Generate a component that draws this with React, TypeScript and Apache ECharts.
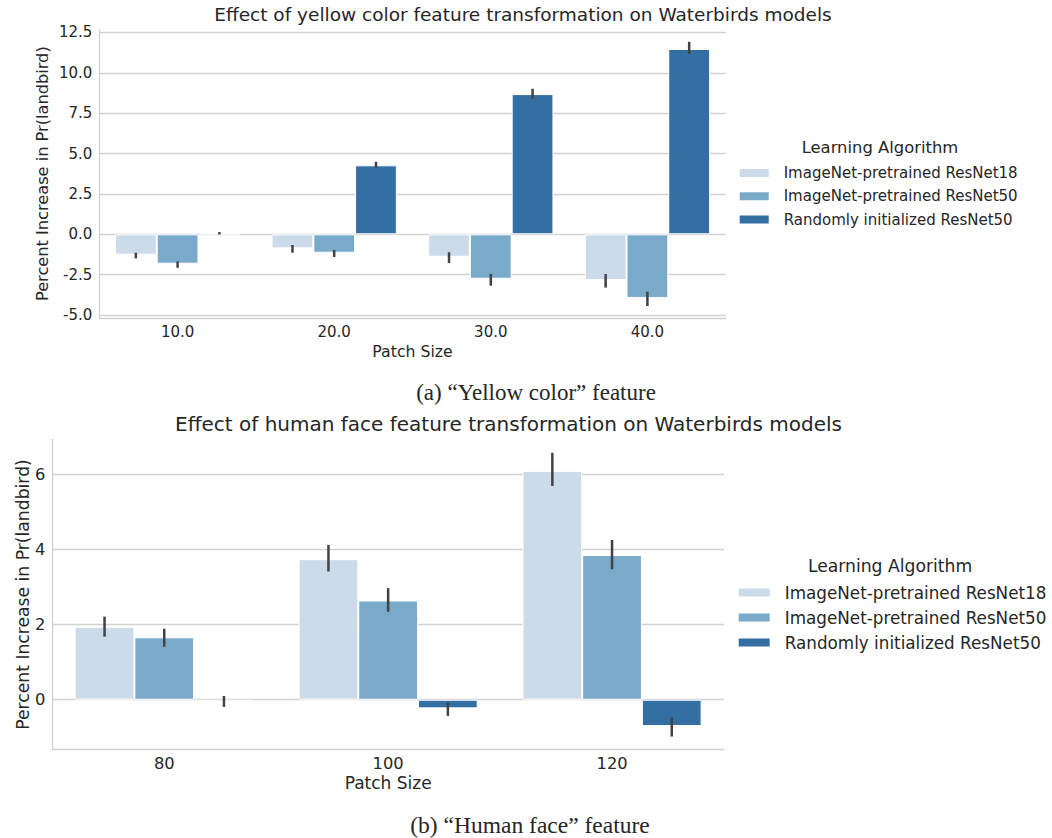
import React, { useEffect, useRef } from "react";
import * as echarts from "echarts";

// ---------- Data ----------
const seriesNames = [
  "ImageNet-pretrained ResNet18",
  "ImageNet-pretrained ResNet50",
  "Randomly initialized ResNet50",
];
const seriesColors = ["#cbdbea", "#79aac9", "#346fa3"];

// (a) Yellow color feature
const topCategories = ["10.0", "20.0", "30.0", "40.0"];
const topR18 = [-1.26, -0.87, -1.39, -2.83];
const topR18Low = [-1.49, -1.14, -1.78, -3.3];
const topR18High = [-1.14, -0.66, -1.11, -2.46];
const topR50 = [-1.82, -1.14, -2.75, -3.94];
const topR50Low = [-2.07, -1.4, -3.18, -4.44];
const topR50High = [-1.67, -0.97, -2.46, -3.55];
const topRand = [0.05, 4.27, 8.68, 11.47];
const topRandLow = [-0.01, 4.12, 8.39, 11.18];
const topRandHigh = [0.14, 4.49, 9.01, 11.92];
const topTicks = [-5, -2.5, 0, 2.5, 5, 7.5, 10, 12.5];

// (b) Human face feature
const botCategories = ["80", "100", "120"];
const botR18 = [1.94, 3.74, 6.09];
const botR18Low = [1.68, 3.41, 5.69];
const botR18High = [2.21, 4.12, 6.57];
const botR50 = [1.66, 2.64, 3.85];
const botR50Low = [1.41, 2.34, 3.47];
const botR50High = [1.89, 2.97, 4.25];
const botRand = [-0.04, -0.23, -0.7];
const botRandLow = [-0.19, -0.43, -0.98];
const botRandHigh = [0.1, -0.07, -0.47];
const botTicks = [0, 2, 4, 6];

const FONT = "DejaVu Sans";
const TEXT = "#262626";
const GRIDC = "#d2d2d2";

function buildChart(
  gi: number,
  values: number[][],
  lows: number[][],
  highs: number[][],
  ticks: number[]
) {
  const series: any[] = [];
  series.push({
    type: "line",
    xAxisIndex: gi,
    yAxisIndex: gi,
    data: [],
    silent: true,
    markLine: {
      z: 1,
      silent: true,
      symbol: "none",
      label: { show: false },
      lineStyle: { color: GRIDC, width: 1.3, type: "solid" },
      data: ticks.map((t) => ({ yAxis: t })),
    },
  });
  values.forEach((vals, i) => {
    series.push({
      type: "bar",
      name: seriesNames[i],
      xAxisIndex: gi,
      yAxisIndex: gi,
      data: vals,
      z: 2,
      barGap: "0%",
      barCategoryGap: "20%",
      itemStyle: { color: seriesColors[i], borderColor: "#ffffff", borderWidth: 1 },
    });
  });
  values.forEach((vals, i) => {
    series.push({
      type: "custom",
      xAxisIndex: gi,
      yAxisIndex: gi,
      z: 3,
      silent: true,
      encode: { x: 0, y: [1, 2] },
      data: vals.map((_, c) => [c, lows[i][c], highs[i][c]]),
      renderItem: (params: any, api: any) => {
        const cat = api.value(0);
        const lo = api.value(1);
        const hi = api.value(2);
        const band = api.size([1, 0])[0];
        const off = ((i - 1) * band * 0.8) / 3;
        const p1 = api.coord([cat, lo]);
        const p2 = api.coord([cat, hi]);
        return {
          type: "line",
          shape: { x1: p1[0] + off, y1: p1[1], x2: p2[0] + off, y2: p2[1] },
          style: { stroke: "#424242", lineWidth: 2.5 },
        };
      },
    });
  });
  return series;
}

export default function App() {
  const ref = useRef<HTMLDivElement>(null);
  useEffect(() => {
    document.body.style.margin = "0";
    const chart = echarts.init(ref.current!, undefined, { renderer: "svg" });

    const xAxisBase = (gi: number, cats: string[], fs: number, nfs: number, gap: number, margin: number) => ({
      type: "category",
      gridIndex: gi,
      data: cats,
      name: "Patch Size",
      nameLocation: "middle",
      nameGap: gap,
      nameTextStyle: { fontFamily: FONT, fontSize: nfs, color: TEXT },
      axisLine: { show: true, onZero: false, lineStyle: { color: GRIDC, width: 1.3 } },
      axisTick: { show: false },
      splitLine: { show: false },
      axisLabel: { fontFamily: FONT, fontSize: fs, color: TEXT, margin },
    });

    const yAxisBase = (
      gi: number,
      min: number,
      max: number,
      ticks: number[],
      fmt: (v: number) => string,
      fs: number,
      nfs: number,
      gap: number
    ) => ({
      type: "value",
      gridIndex: gi,
      min,
      max,
      name: "Percent Increase in Pr(landbird)",
      nameLocation: "middle",
      nameGap: gap,
      nameMoveOverlap: false,
      nameTextStyle: { fontFamily: FONT, fontSize: nfs, color: TEXT },
      axisLine: { show: true, lineStyle: { color: GRIDC, width: 1.3 } },
      axisTick: { show: false },
      splitLine: { show: false },
      axisLabel: {
        fontFamily: FONT,
        fontSize: fs,
        color: TEXT,
        margin: 7,
        customValues: ticks,
        formatter: (v: number) => fmt(v),
      },
    });

    const legendBase = (top: number, left: number, fs: number, lh: number, gap: number, w: number) => ({
      data: seriesNames,
      orient: "vertical",
      left,
      top,
      icon: "rect",
      itemWidth: w,
      itemHeight: 10,
      itemGap: gap,
      selectedMode: false,
      textStyle: {
        fontFamily: FONT,
        fontSize: fs,
        color: TEXT,
        lineHeight: lh,
        padding: [0, 0, 0, 9],
      },
    });

    const textEl = (x: number, y: number, text: string, font: string) => ({
      type: "text",
      x,
      y,
      style: { text, font, fill: TEXT, align: "center", verticalAlign: "middle" },
    });

    const option: any = {
      animation: false,
      backgroundColor: "#ffffff",
      grid: [
        { left: 99.3, top: 29.3, width: 626.4, height: 288.7, containLabel: false },
        { left: 52.3, top: 439.3, width: 671.7, height: 310.4, containLabel: false },
      ],
      xAxis: [xAxisBase(0, topCategories, 15, 15.7, 25, 6), xAxisBase(1, botCategories, 16.3, 17, 25, 6)],
      yAxis: [
        yAxisBase(0, -5.18, 12.69, topTicks, (v) => v.toFixed(1), 15, 16.2, 49),
        yAxisBase(1, -1.33, 6.93, botTicks, (v) => String(v), 16.3, 17.2, 21),
      ],
      legend: [
        legendBase(159, 732.7, 15, 18, 5.3, 31),
        legendBase(578, 731.7, 16.8, 19, 6, 33),
      ],
      series: [
        ...buildChart(0, [topR18, topR50, topRand], [topR18Low, topR50Low, topRandLow], [topR18High, topR50High, topRandHigh], topTicks),
        ...buildChart(1, [botR18, botR50, botRand], [botR18Low, botR50Low, botRandLow], [botR18High, botR50High, botRandHigh], botTicks),
      ],
      graphic: [
        textEl(523, 14, "Effect of yellow color feature transformation on Waterbirds models", `18.5px "${FONT}"`),
        textEl(880, 147, "Learning Algorithm", `16.4px "${FONT}"`),
        textEl(536, 392, "(a) “Yellow color” feature", `23px "Liberation Serif"`),
        textEl(508.5, 424, "Effect of human face feature transformation on Waterbirds models", `20px "${FONT}"`),
        textEl(890, 566, "Learning Algorithm", `17.2px "${FONT}"`),
        textEl(530, 825, "(b) “Human face” feature", `23.5px "Liberation Serif"`),
      ],
    };
    chart.setOption(option);
    return () => chart.dispose();
  }, []);
  return <div ref={ref} style={{ width: 1052, height: 838 }} />;
}
